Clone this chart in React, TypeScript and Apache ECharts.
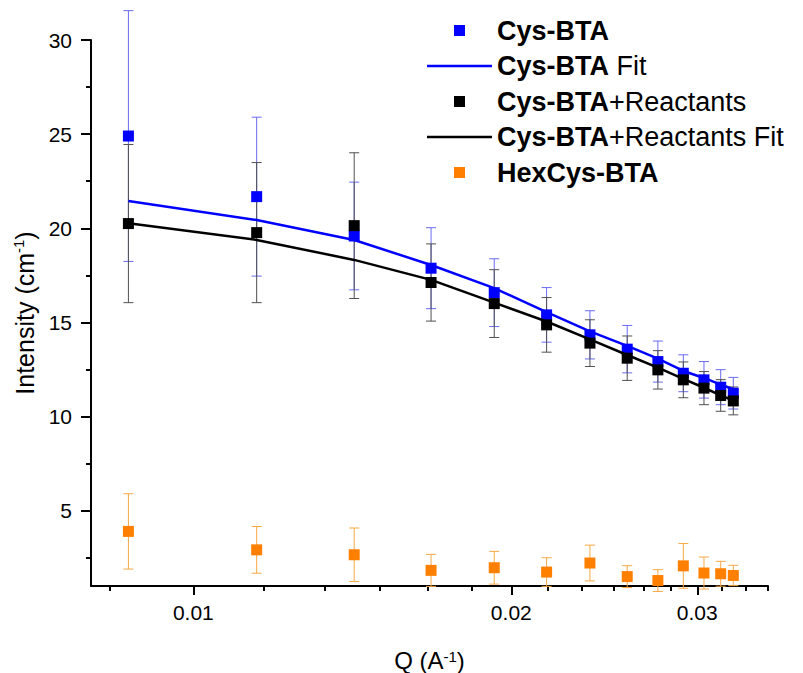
import React, { useEffect, useRef } from "react";
import * as echarts from "echarts";

// Q values (A^-1)
const qValues = [0.00868, 0.01148, 0.0142, 0.01679, 0.01927, 0.0216, 0.02374, 0.02575, 0.02753, 0.0291, 0.03044, 0.03157, 0.03245];

const cysBTA = [24.9, 21.68, 19.59, 17.88, 16.58, 15.4, 14.34, 13.58, 12.92, 12.3, 11.95, 11.56, 11.24];
const cysBTAErr = [6.66, 4.22, 2.86, 2.15, 1.8, 1.45, 1.28, 1.26, 1.09, 0.98, 0.97, 0.93, 0.84];
const cysBTAFit = [21.45, 20.44, 19.38, 18.05, 16.82, 15.55, 14.52, 13.75, 13.08, 12.42, 12.05, 11.7, 11.45];

const cysBTAReact = [20.25, 19.77, 20.14, 17.12, 16.0, 14.87, 13.9, 13.1, 12.48, 11.95, 11.51, 11.12, 10.83];
const cysBTAReactErr = [4.2, 3.72, 3.87, 2.05, 1.8, 1.45, 1.24, 1.18, 1.02, 0.95, 0.88, 0.84, 0.74];
const cysBTAReactFit = [20.27, 19.38, 18.32, 17.26, 16.05, 15.05, 14.1, 13.27, 12.6, 12.0, 11.53, 11.12, 10.86];

const hexCysBTA = [3.9, 2.92, 2.66, 1.83, 1.97, 1.74, 2.22, 1.5, 1.29, 2.07, 1.69, 1.65, 1.56];
const hexCysBTAErr = [2.0, 1.24, 1.42, 0.85, 0.87, 0.76, 0.95, 0.58, 0.58, 1.19, 0.85, 0.66, 0.54];

const xMajorTicks = [0.01, 0.02, 0.03];
const xMinorTicks = [0.00833, 0.01167, 0.01333, 0.015, 0.01667, 0.01833, 0.02167, 0.02333, 0.025, 0.02667, 0.02833, 0.03167, 0.03333, 0.035];
const yMajorTicks = [5, 10, 15, 20, 25, 30];
const yMinorTicks = [2.5, 7.5, 12.5, 17.5, 22.5, 27.5];

const X_MIN = 0.008;
const X_MAX = 0.035;
const Y_MIN = 1;
const Y_MAX = 30;

const FONT = "'Liberation Sans', Arial, sans-serif";
const BLUE = "#0000ff";
const BLACK = "#000000";
const ORANGE = "#ff8000";

const SQUARE_ICON = "path://M0 0H10V10H0Z";
const LINE_ICON = "path://M0 0H26V1H0Z";

const lg = (v: number) => Math.log10(v);

function errSeries(vals: number[], errs: number[], color: string) {
  return {
    type: "custom",
    clip: false,
    silent: true,
    xAxisIndex: 0,
    yAxisIndex: 0,
    encode: { x: 0, y: [1, 2] },
    data: qValues.map((q, i) => [lg(q), vals[i] - errs[i], vals[i] + errs[i]]),
    renderItem: (params: any, api: any) => {
      const x = api.value(0);
      const pLo = api.coord([x, api.value(1)]);
      const pHi = api.coord([x, api.value(2)]);
      const hw = 5;
      const style = { stroke: color, lineWidth: 1 };
      return {
        type: "group",
        children: [
          { type: "line", shape: { x1: pHi[0], y1: pHi[1], x2: pLo[0], y2: pLo[1] }, style },
          { type: "line", shape: { x1: pHi[0] - hw, y1: pHi[1], x2: pHi[0] + hw, y2: pHi[1] }, style },
          { type: "line", shape: { x1: pLo[0] - hw, y1: pLo[1], x2: pLo[0] + hw, y2: pLo[1] }, style },
        ],
      };
    },
  };
}

function scatterSeries(name: string, vals: number[], color: string) {
  return {
    name,
    type: "scatter",
    symbol: "rect",
    symbolSize: 11,
    itemStyle: { color, opacity: 1 },
    data: qValues.map((q, i) => [lg(q), vals[i]]),
  };
}

function fitSeries(name: string, vals: number[], color: string) {
  return {
    name,
    type: "line",
    symbol: "none",
    showSymbol: false,
    lineStyle: { color, width: 2.5 },
    itemStyle: { color },
    data: qValues.map((q, i) => [lg(q), vals[i]]),
  };
}

const legendNames = ["Cys-BTA", "Cys-BTA Fit", "Cys-BTA+Reactants", "Cys-BTA+Reactants Fit", "HexCys-BTA"];

export default function App() {
  const ref = useRef<HTMLDivElement>(null);
  useEffect(() => {
    if (!ref.current) return;
    const chart = echarts.init(ref.current, null, { renderer: "svg" });
    const axisLine = { show: true, onZero: false, lineStyle: { color: "#000", width: 2 } };
    const option: any = {
      animation: false,
      backgroundColor: "#ffffff",
      grid: { left: 91, right: 35, top: 40, bottom: 87, containLabel: false, outerBoundsMode: "none" },
      legend: {
        orient: "vertical",
        left: 422,
        top: 12,
        itemWidth: 65,
        itemHeight: 11,
        itemGap: 8.5,
        selectedMode: false,
        symbolKeepAspect: true,
        data: legendNames.map((n) => ({ name: n, icon: n.endsWith("Fit") ? LINE_ICON : SQUARE_ICON })),
        formatter: (name: string) => {
          if (name.startsWith("Hex")) return "{b|" + name + "}";
          const rest = name.slice("Cys-BTA".length);
          return rest ? "{b|Cys-BTA}{r|" + rest + "}" : "{b|Cys-BTA}";
        },
        textStyle: {
          fontFamily: FONT,
          fontSize: 27,
          color: "#000",
          rich: {
            b: { fontFamily: FONT, fontSize: 27, fontWeight: "bold", color: "#000", lineHeight: 30 },
            r: { fontFamily: FONT, fontSize: 27, color: "#000", lineHeight: 30 },
          },
        },
      },
      xAxis: [
        {
          type: "value",
          position: "bottom",
          min: lg(X_MIN),
          max: lg(X_MAX),
          axisLine,
          splitLine: { show: false },
          axisTick: { show: true, length: 9, lineStyle: { color: "#000", width: 2 }, customValues: xMajorTicks.map(lg) },
          axisLabel: {
            show: true,
            margin: 16,
            fontSize: 21,
            fontFamily: FONT,
            color: "#000",
            customValues: xMajorTicks.map(lg),
            formatter: (v: number) => Math.pow(10, v).toFixed(2),
          },
          name: "{m|Q (A}{s|-1}{m|)}",
          nameLocation: "middle",
          nameGap: 63,
          nameTextStyle: {
            fontFamily: FONT,
            fontSize: 24,
            color: "#000",
            rich: {
              m: { fontFamily: FONT, fontSize: 24, color: "#000", lineHeight: 22 },
              s: { fontFamily: FONT, fontSize: 15, color: "#000", lineHeight: 22, verticalAlign: "top", padding: [0, 0, 10, 0] },
            },
          },
        },
        {
          type: "value",
          position: "bottom",
          min: lg(X_MIN),
          max: lg(X_MAX),
          axisLine: { show: false, onZero: false },
          splitLine: { show: false },
          axisTick: { show: true, length: 5, lineStyle: { color: "#000", width: 2 }, customValues: xMinorTicks.map(lg) },
          axisLabel: { show: false },
        },
      ],
      yAxis: [
        {
          type: "value",
          position: "left",
          min: Y_MIN,
          max: Y_MAX,
          axisLine,
          splitLine: { show: false },
          axisTick: { show: true, length: 10, lineStyle: { color: "#000", width: 2 }, customValues: yMajorTicks },
          axisLabel: {
            show: true,
            margin: 19,
            fontSize: 21,
            fontFamily: FONT,
            color: "#000",
            customValues: yMajorTicks,
          },
          name: "{m|Intensity (cm}{s|-1}{m|)}",
          nameLocation: "middle",
          nameRotate: 90,
          nameGap: 52,
          nameTextStyle: {
            fontFamily: FONT,
            fontSize: 25,
            color: "#000",
            rich: {
              m: { fontFamily: FONT, fontSize: 25, color: "#000", lineHeight: 28 },
              s: { fontFamily: FONT, fontSize: 15, color: "#000", lineHeight: 28, verticalAlign: "top", padding: [0, 0, 12, 0] },
            },
          },
        },
        {
          type: "value",
          position: "left",
          min: Y_MIN,
          max: Y_MAX,
          axisLine: { show: false, onZero: false },
          splitLine: { show: false },
          axisTick: { show: true, length: 5, lineStyle: { color: "#000", width: 2 }, customValues: yMinorTicks },
          axisLabel: { show: false },
        },
      ],
      series: [
        errSeries(cysBTA, cysBTAErr, "#6a6af2"),
        scatterSeries("Cys-BTA", cysBTA, BLUE),
        fitSeries("Cys-BTA Fit", cysBTAFit, BLUE),
        errSeries(cysBTAReact, cysBTAReactErr, "#505050"),
        scatterSeries("Cys-BTA+Reactants", cysBTAReact, BLACK),
        fitSeries("Cys-BTA+Reactants Fit", cysBTAReactFit, BLACK),
        errSeries(hexCysBTA, hexCysBTAErr, "#f7a845"),
        scatterSeries("HexCys-BTA", hexCysBTA, ORANGE),
      ],
    };
    chart.setOption(option);
    return () => chart.dispose();
  }, []);
  return (
    <div
      ref={ref}
      style={{ position: "fixed", left: 0, top: 0, width: 803, height: 673, background: "#fff" }}
    />
  );
}
